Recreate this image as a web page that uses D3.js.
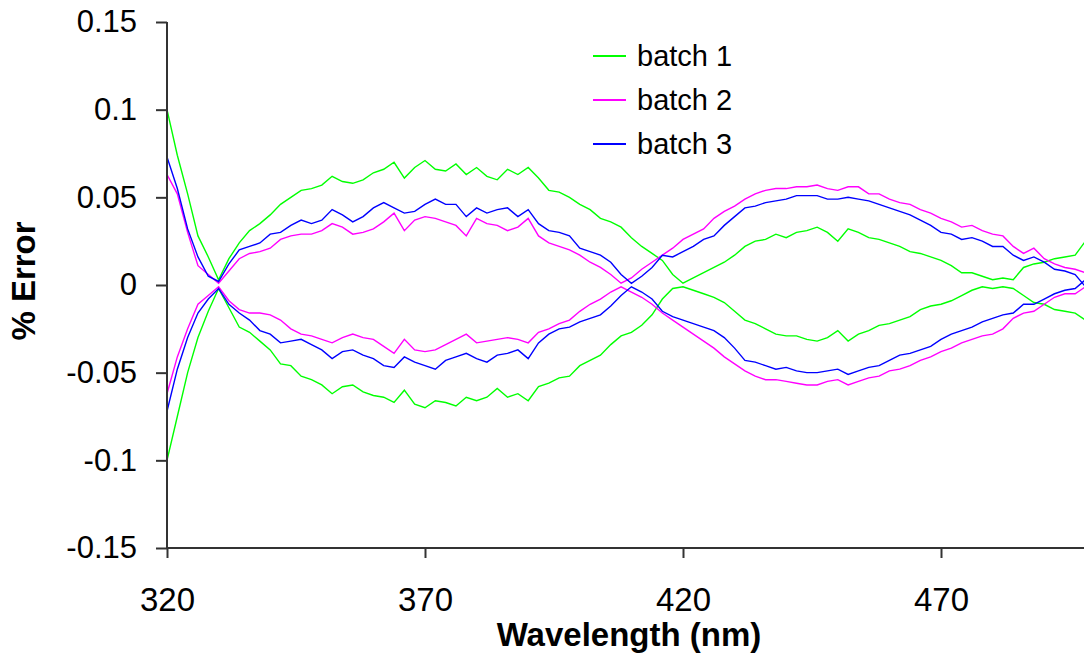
<!DOCTYPE html>
<html>
<head>
<meta charset="utf-8">
<script src="https://cdn.jsdelivr.net/npm/d3@7"></script>
<style>
  body { margin: 0; background: #fff; }
  svg { display: block; }
  text { font-family: "Liberation Sans", Arial, sans-serif; fill: #000; }
</style>
</head>
<body>
<div id="chart"></div>
<script>
const wavelengths = d3.range(320, 500, 2); // 320 ... 498

const batch1Upper = [
  0.100, 0.074, 0.052, 0.028, 0.016, 0.003, 0.015, 0.024, 0.031, 0.035,
  0.040, 0.046, 0.050, 0.054, 0.055, 0.057, 0.062, 0.059, 0.058, 0.060,
  0.064, 0.066, 0.070, 0.061, 0.067, 0.071, 0.066, 0.065, 0.069, 0.063,
  0.067, 0.062, 0.060, 0.066, 0.063, 0.067, 0.061, 0.054, 0.053, 0.050,
  0.046, 0.043, 0.038, 0.036, 0.033, 0.027, 0.022, 0.018, 0.014, 0.006,
  0.001, 0.004, 0.007, 0.010, 0.013, 0.017, 0.022, 0.025, 0.026, 0.029,
  0.027, 0.030, 0.031, 0.033, 0.030, 0.025, 0.032, 0.030, 0.027, 0.026,
  0.024, 0.022, 0.019, 0.018, 0.016, 0.014, 0.011, 0.007, 0.007, 0.005,
  0.003, 0.004, 0.003, 0.010, 0.012, 0.013, 0.015, 0.016, 0.017, 0.025
];
const batch1Lower = [
  -0.100, -0.075, -0.050, -0.030, -0.015, -0.002, -0.013, -0.024, -0.027, -0.032,
  -0.037, -0.045, -0.046, -0.052, -0.054, -0.057, -0.062, -0.058, -0.057, -0.061,
  -0.063, -0.064, -0.067, -0.060, -0.068, -0.070, -0.066, -0.067, -0.069, -0.064,
  -0.066, -0.064, -0.059, -0.064, -0.062, -0.066, -0.058, -0.056, -0.053, -0.052,
  -0.046, -0.043, -0.040, -0.034, -0.029, -0.027, -0.023, -0.017, -0.008, -0.002,
  -0.001, -0.003, -0.005, -0.007, -0.010, -0.015, -0.020, -0.022, -0.025, -0.028,
  -0.029, -0.029, -0.031, -0.032, -0.030, -0.026, -0.032, -0.028, -0.026, -0.023,
  -0.022, -0.020, -0.018, -0.014, -0.012, -0.011, -0.009, -0.006, -0.003, -0.001,
  -0.002, -0.001, -0.002, -0.006, -0.010, -0.011, -0.014, -0.015, -0.016, -0.020
];
const batch2Upper = [
  0.063, 0.052, 0.030, 0.011, 0.006, 0.001, 0.008, 0.015, 0.018, 0.019,
  0.021, 0.026, 0.028, 0.029, 0.029, 0.031, 0.035, 0.033, 0.029, 0.030,
  0.032, 0.036, 0.041, 0.031, 0.037, 0.039, 0.038, 0.036, 0.034, 0.028,
  0.038, 0.035, 0.034, 0.031, 0.033, 0.038, 0.028, 0.024, 0.022, 0.020,
  0.017, 0.013, 0.010, 0.006, 0.001, 0.004, 0.009, 0.013, 0.017, 0.021,
  0.026, 0.029, 0.032, 0.038, 0.042, 0.045, 0.049, 0.052, 0.054, 0.055,
  0.055, 0.056, 0.056, 0.057, 0.055, 0.054, 0.056, 0.056, 0.052, 0.052,
  0.049, 0.047, 0.046, 0.043, 0.041, 0.038, 0.036, 0.033, 0.034, 0.031,
  0.029, 0.028, 0.022, 0.018, 0.021, 0.015, 0.012, 0.010, 0.009, 0.007
];
const batch2Lower = [
  -0.062, -0.041, -0.025, -0.011, -0.006, -0.001, -0.009, -0.014, -0.016, -0.016,
  -0.017, -0.020, -0.025, -0.028, -0.029, -0.031, -0.033, -0.030, -0.028, -0.030,
  -0.031, -0.035, -0.039, -0.031, -0.037, -0.038, -0.037, -0.034, -0.031, -0.028,
  -0.033, -0.032, -0.031, -0.030, -0.031, -0.033, -0.027, -0.025, -0.022, -0.020,
  -0.015, -0.011, -0.008, -0.004, -0.001, -0.004, -0.007, -0.011, -0.016, -0.020,
  -0.024, -0.028, -0.032, -0.036, -0.041, -0.045, -0.049, -0.052, -0.054, -0.054,
  -0.055, -0.056, -0.057, -0.057, -0.055, -0.054, -0.057, -0.055, -0.053, -0.052,
  -0.049, -0.048, -0.046, -0.043, -0.041, -0.038, -0.036, -0.033, -0.031, -0.029,
  -0.028, -0.025, -0.019, -0.016, -0.015, -0.011, -0.007, -0.005, -0.005, -0.001
];
const batch3Upper = [
  0.073, 0.055, 0.032, 0.016, 0.005, 0.002, 0.012, 0.020, 0.022, 0.024,
  0.029, 0.030, 0.034, 0.037, 0.035, 0.037, 0.043, 0.040, 0.036, 0.039,
  0.044, 0.047, 0.044, 0.041, 0.042, 0.046, 0.049, 0.046, 0.046, 0.039,
  0.044, 0.041, 0.043, 0.044, 0.039, 0.043, 0.035, 0.031, 0.030, 0.028,
  0.021, 0.019, 0.017, 0.013, 0.006, 0.001, 0.005, 0.010, 0.017, 0.016,
  0.019, 0.022, 0.026, 0.028, 0.034, 0.039, 0.044, 0.045, 0.047, 0.048,
  0.049, 0.051, 0.051, 0.051, 0.049, 0.049, 0.050, 0.049, 0.048, 0.046,
  0.044, 0.042, 0.040, 0.037, 0.034, 0.030, 0.029, 0.026, 0.027, 0.025,
  0.022, 0.022, 0.017, 0.014, 0.016, 0.013, 0.009, 0.008, 0.006, -0.001
];
const batch3Lower = [
  -0.072, -0.048, -0.030, -0.016, -0.008, -0.002, -0.011, -0.016, -0.020, -0.026,
  -0.028, -0.033, -0.032, -0.031, -0.034, -0.037, -0.042, -0.038, -0.037, -0.040,
  -0.042, -0.046, -0.047, -0.041, -0.044, -0.046, -0.048, -0.043, -0.041, -0.039,
  -0.042, -0.044, -0.040, -0.039, -0.037, -0.042, -0.033, -0.028, -0.025, -0.024,
  -0.021, -0.019, -0.017, -0.012, -0.006, -0.001, -0.004, -0.008, -0.015, -0.018,
  -0.020, -0.022, -0.024, -0.026, -0.030, -0.036, -0.043, -0.044, -0.046, -0.048,
  -0.047, -0.049, -0.050, -0.050, -0.049, -0.048, -0.051, -0.049, -0.047, -0.046,
  -0.043, -0.040, -0.039, -0.037, -0.035, -0.031, -0.028, -0.026, -0.024, -0.021,
  -0.019, -0.017, -0.016, -0.011, -0.011, -0.008, -0.005, -0.003, -0.002, 0.003
];

const seriesNames = ["batch 1", "batch 2", "batch 3"];
const seriesColors = ["#00ff00", "#ff00ff", "#0000ff"];
const seriesData = [
  [batch1Upper, batch1Lower],
  [batch2Upper, batch2Lower],
  [batch3Upper, batch3Lower]
];

const xTicks = [320, 370, 420, 470];
const yTicks = [-0.15, -0.1, -0.05, 0, 0.05, 0.1, 0.15];
const yTickLabels = ["-0.15", "-0.1", "-0.05", "0", "0.05", "0.1", "0.15"];

// --- setup ---
const width = 1084, height = 655;
const plotLeft = 167, plotTop = 22, plotBottom = 548;
const pxPerNm = 5.16;

const svg = d3.select("#chart").append("svg")
  .attr("width", width).attr("height", height);

const x = d3.scaleLinear().domain([320, 500]).range([plotLeft, plotLeft + 180 * pxPerNm]);
const y = d3.scaleLinear().domain([-0.15, 0.15]).range([plotBottom, plotTop]);

svg.append("defs").append("clipPath").attr("id", "plot-clip")
  .append("rect").attr("x", plotLeft).attr("y", 0)
  .attr("width", width - plotLeft).attr("height", plotBottom);

// --- lines ---
const line = d3.line().x((d, i) => x(wavelengths[i])).y(d => y(d));
const linesG = svg.append("g").attr("clip-path", "url(#plot-clip)");
seriesData.forEach((pair, k) => {
  pair.forEach(vals => {
    linesG.append("path")
      .datum(vals)
      .attr("d", line)
      .attr("fill", "none")
      .attr("stroke", seriesColors[k])
      .attr("stroke-width", 1.4);
  });
});

// --- axes ---
const yAxis = d3.axisLeft(y).tickValues(yTicks)
  .tickFormat((d, i) => yTickLabels[i])
  .tickSizeInner(11).tickSizeOuter(0).tickPadding(19);
const yG = svg.append("g").attr("transform", `translate(${plotLeft},0)`).call(yAxis);

const xAxis = d3.axisBottom(x).tickValues(xTicks)
  .tickFormat(d3.format("d"))
  .tickSizeInner(10).tickSizeOuter(0).tickPadding(30);
const xG = svg.append("g").attr("transform", `translate(0,${plotBottom})`).call(xAxis);

[yG, xG].forEach(g => {
  g.select(".domain").attr("stroke", "#333").attr("stroke-width", 2);
  g.selectAll(".tick line").attr("stroke", "#333").attr("stroke-width", 2);
  g.selectAll(".tick text").attr("fill", "#000")
    .style("font-family", '"Liberation Sans", Arial, sans-serif');
});
yG.selectAll(".tick text").style("font-size", "31px");
xG.selectAll(".tick text").style("font-size", "33px");
// y axis spans the plot height, x axis runs to the right edge
yG.select(".domain").attr("d", `M0,${plotTop}V${plotBottom}`);
xG.select(".domain").attr("d", `M${plotLeft},0H${width}`);

// --- titles ---
svg.append("text")
  .attr("x", 629).attr("y", 646)
  .attr("text-anchor", "middle")
  .style("font-size", "33px").style("font-weight", "bold")
  .text("Wavelength (nm)");

svg.append("text")
  .attr("transform", "translate(35,281) rotate(-90)")
  .attr("text-anchor", "middle")
  .style("font-size", "33px").style("font-weight", "bold")
  .text("% Error");

// --- legend ---
const legend = svg.append("g").attr("transform", "translate(593,56)");
seriesNames.forEach((name, i) => {
  const row = legend.append("g").attr("transform", `translate(0,${i * 44})`);
  row.append("line").attr("x1", 0).attr("x2", 33).attr("y1", 0).attr("y2", 0)
    .attr("stroke", seriesColors[i]).attr("stroke-width", 2);
  row.append("text").attr("x", 44).attr("dy", "0.35em")
    .style("font-size", "29px").text(name);
});
</script>
</body>
</html>
